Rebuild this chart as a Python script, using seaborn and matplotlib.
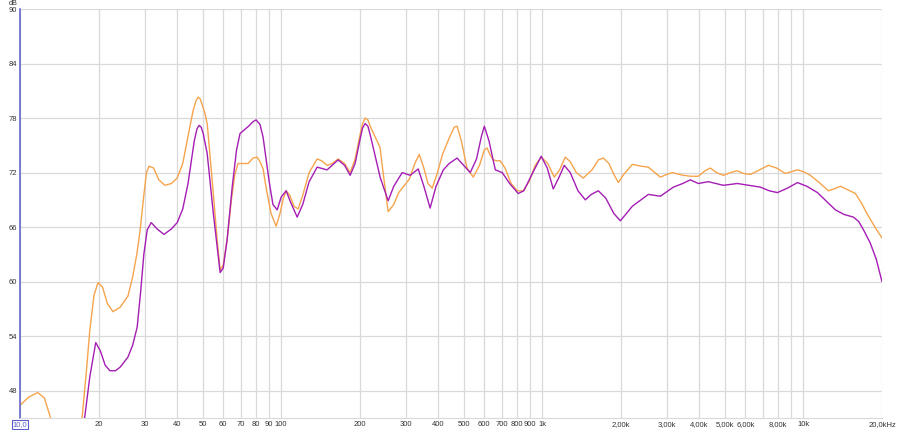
import pandas as pd
import seaborn as sns
import matplotlib
matplotlib.use("Agg")
import matplotlib.pyplot as plt
from matplotlib.ticker import FixedLocator, NullLocator

# values (frequency in Hz, level in dB)
orange_freq = [10, 10.8, 11.7, 12.4, 13.0, 14.0, 15.5, 16.6, 17.3, 18.0, 18.5, 19.2, 19.9, 20.7,
               21.6, 22.7, 24.2, 25.9, 27.0, 28.0, 28.8, 29.8, 30.5, 31.2, 32.5, 34.0, 35.9, 38.0,
               40.0, 42.0, 44.0, 46.0, 47.2, 48.1, 49.0, 49.8, 51.0, 52.1, 54.5, 56.9, 58.4, 60.0,
               62.1, 64.5, 66.5, 68.4, 71.5, 74.7, 78.0, 80.9, 83.0, 85.3, 88.0, 91.5, 95.7, 99.0,
               102.0, 104.5, 108.0, 112.0, 116.2, 121.0, 128.0, 137.4, 143.0, 150.0, 157.0, 165.3,
               175.0, 183.8, 192.0, 200.0, 205.0, 209.8, 215.0, 220.0, 239.0, 247.0, 257.0, 270.0,
               282.0, 293.0, 310.0, 325.0, 338.0, 352.0, 365.0, 379.0, 395.0, 415.0, 440.0, 460.0,
               472.0, 490.0, 515.0, 544.0, 575.0, 600.0, 615.0, 630.0, 649.0, 670.0, 690.0, 720.0,
               760.0, 802.0, 846.0, 890.0, 940.0, 991.0, 1050, 1112, 1165, 1225, 1280, 1350, 1436,
               1550, 1640, 1714, 1800, 1880, 1956, 2050, 2213, 2400, 2548, 2700, 2833, 3000, 3150,
               3467, 3700, 3960, 4200, 4403, 4650, 4938, 5250, 5587, 5900, 6266, 6800, 7343, 7900,
               8531, 9000, 9487, 10000, 10640, 11500, 12470, 13100, 13870, 14800, 15820, 16800,
               17500, 18800, 20000]
orange_db = [46.4, 47.3, 47.8, 47.2, 45.3, 42.0, 40.0, 42.5, 45.1, 50.5, 54.6, 58.5, 59.9, 59.4,
             57.6, 56.7, 57.2, 58.4, 60.5, 63.0, 65.5, 69.5, 72.0, 72.7, 72.5, 71.2, 70.6, 70.8,
             71.4, 73.0, 76.0, 78.8, 79.9, 80.3, 80.1, 79.5, 78.6, 77.4, 71.0, 64.6, 61.3, 61.8,
             64.6, 69.0, 71.8, 73.0, 73.0, 73.0, 73.6, 73.7, 73.2, 72.4, 70.0, 67.5, 66.1, 67.5,
             69.2, 70.0, 69.5, 68.3, 68.0, 69.5, 72.0, 73.5, 73.3, 72.8, 73.0, 73.5,
             73.0, 72.0, 73.5, 76.0, 77.4, 78.0, 77.8, 77.0, 74.8, 71.5, 67.7, 68.5,
             69.8, 70.4, 71.3, 73.0, 74.0, 72.5, 70.8, 70.3, 71.8, 74.0, 75.8, 77.0,
             77.1, 75.5, 72.5, 71.5, 72.8, 74.5, 74.7, 74.0, 73.4, 73.3, 73.3, 72.5,
             70.8, 70.0, 70.0, 71.0, 72.8, 73.7, 73.0, 71.5, 72.3, 73.7, 73.2, 72.0, 71.4,
             72.3, 73.4, 73.6, 73.0, 71.8, 70.9, 71.8, 72.9, 72.7, 72.6, 72.0, 71.5, 71.8, 72.0,
             71.7, 71.6, 71.6, 72.2, 72.5, 72.0, 71.7, 72.0, 72.2, 71.9, 71.8, 72.3, 72.8, 72.5,
             71.9, 72.1, 72.3, 72.1, 71.7, 70.9, 70.0, 70.2, 70.5, 70.1, 69.7, 68.5,
             67.5, 66.0, 64.8]

purple_freq = [10, 13, 15.5, 17.7, 18.5, 19.5, 20.3, 21.2, 22.1, 23.2, 24.2, 25.9, 27.0, 28.1,
               29.0, 29.8, 30.7, 31.8, 33.5, 35.6, 38.0, 40.0, 42.0, 44.0, 46.5, 47.6, 48.5, 49.4,
               50.3, 52.1, 55.0, 58.4, 60.0, 62.1, 65.0, 67.5, 69.6, 75.0, 78.0, 80.2, 83.0, 85.3,
               90.0, 93.0, 96.6, 100.0, 104.5, 108.5, 115.2, 121.0, 128.0, 137.4, 150.0, 165.3,
               175.0, 183.8, 192.0, 200.0, 205.0, 209.8, 215.0, 220.0, 239.4, 257.0, 270.0, 290.8,
               312.0, 335.0, 352.0, 372.0, 392.0, 418.0, 440.0, 472.0, 500.0, 530.0, 560.0, 585.0,
               600.0, 625.0, 661.0, 703.0, 750.0, 809.0, 850, 920, 991, 1045, 1102, 1160, 1214,
               1280, 1370, 1462, 1540, 1639, 1750, 1880, 1991, 2100, 2213, 2548, 2833, 3177, 3450,
               3690, 3960, 4326, 4938, 5587, 6843, 7400, 7950, 8700, 9487, 10300, 11320, 12300,
               13260, 14300, 15560, 16300, 16990, 18000, 19000, 20000]
purple_db = [30.0, 33.0, 37.0, 45.1, 49.5, 53.3, 52.4, 50.8, 50.2, 50.2, 50.6, 51.7, 53.0, 55.0,
             59.0, 63.0, 65.7, 66.5, 65.8, 65.2, 65.8, 66.5, 68.0, 70.8, 75.5, 76.8, 77.2, 77.0,
             76.3, 74.1, 67.5, 61.0, 61.5, 64.6, 70.5, 74.5, 76.3, 77.1, 77.6, 77.8, 77.3, 75.9,
             71.0, 68.5, 67.9, 69.3, 70.0, 68.8, 67.1, 68.5, 71.0, 72.6, 72.3, 73.4,
             72.8, 71.7, 73.0, 75.5, 76.9, 77.4, 77.1, 76.0, 71.5, 68.9, 70.5, 72.0,
             71.7, 72.4, 70.5, 68.1, 70.5, 72.3, 73.0, 73.6, 72.8, 72.0, 73.5, 76.0,
             77.1, 75.5, 72.3, 72.0, 70.8, 69.7, 70.0, 72.0, 73.8, 72.5, 70.2, 71.5, 72.8,
             72.0, 70.0, 69.0, 69.6, 70.0, 69.2, 67.5, 66.7, 67.5, 68.3, 69.6, 69.4, 70.4, 70.8,
             71.2, 70.8, 71.0, 70.6, 70.8, 70.4, 70.0, 69.8, 70.3, 70.9, 70.5, 69.8, 68.8,
             67.9, 67.4, 67.1, 66.6, 65.7, 64.3, 62.5, 60.0]

x_ticks = [10, 20, 30, 40, 50, 60, 70, 80, 90, 100, 200, 300, 400, 500, 600, 700, 800, 900,
           1000, 2000, 3000, 4000, 5000, 6000, 7000, 8000, 9000, 10000, 20000]
x_tick_labels = ["10,0", "20", "30", "40", "50", "60", "70", "80", "90", "100", "200", "300",
                 "400", "500", "600", "700", "800", "900", "1k", "2,00k", "3,00k", "4,00k",
                 "5,00k", "6,00k", "", "8,00k", "", "10k", "20,0kHz"]
y_ticks = [48, 54, 60, 66, 72, 78, 84, 90]

df = pd.concat([
    pd.DataFrame({"freq": orange_freq, "db": orange_db, "series": "orange"}),
    pd.DataFrame({"freq": purple_freq, "db": purple_db, "series": "purple"}),
])

sns.set_style("white")
plt.rcParams["font.family"] = ["Liberation Sans", "DejaVu Sans"]

fig = plt.figure(figsize=(9, 4.3), dpi=100)
ax = fig.add_axes([20 / 900, 12 / 430, 862 / 900, 409 / 430])

sns.lineplot(data=df, x="freq", y="db", hue="series", hue_order=["orange", "purple"],
             palette={"orange": "#f5a44c", "purple": "#a41db4"}, linewidth=1.0,
             legend=False, sort=False, ax=ax)

ax.set_xscale("log")
ax.set_xlim(10, 20000)
ax.set_ylim(45, 90)
ax.xaxis.set_major_locator(FixedLocator(x_ticks))
ax.xaxis.set_minor_locator(NullLocator())
ax.set_xticklabels(x_tick_labels)
ax.set_yticks(y_ticks)
ax.set_yticklabels([str(v) for v in y_ticks])
ax.set_xlabel("")
ax.set_ylabel("")

ax.grid(True, color="#d9d9d9", linewidth=0.9)
ax.set_axisbelow(True)
ax.tick_params(axis="both", length=0, labelsize=5.5, colors="#333333")
ax.tick_params(axis="y", pad=2)
ax.tick_params(axis="x", pad=2)

for side in ["top", "right"]:
    ax.spines[side].set_visible(False)
ax.spines["bottom"].set_color("#d9d9d9")
ax.spines["left"].set_color("#5c5cc8")
ax.spines["left"].set_linewidth(1.1)

lab = ax.get_xticklabels()[0]
lab.set_color("#5c5cc8")
lab.set_bbox(dict(boxstyle="square,pad=0.1", facecolor="white", edgecolor="#5c5cc8", linewidth=0.8))

fig.text(18 / 900, 1.0, "dB", ha="right", va="top", fontsize=5.2, color="#333333")

fig.savefig("out.png", dpi=100)
